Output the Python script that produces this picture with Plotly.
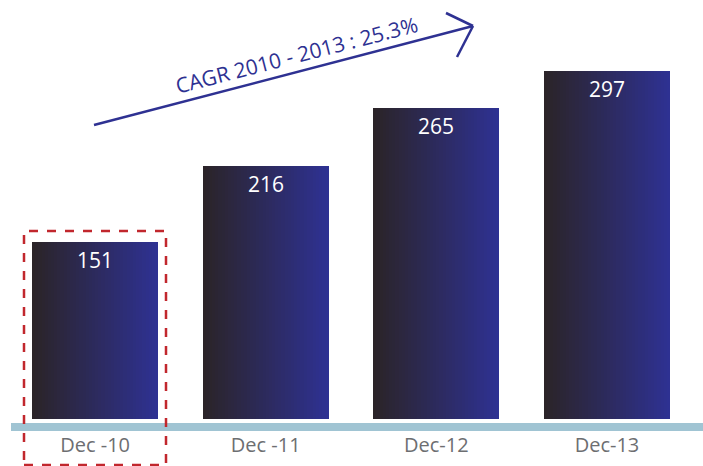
import plotly.graph_objects as go

categories = ["Dec -10", "Dec -11", "Dec-12", "Dec-13"]
values = [151, 216, 265, 297]
cagr_label = "CAGR 2010 - 2013 : 25.3%"

W, H = 703, 466
ML, MR, MT, MB = 11, 0, 0, 47
PW, PH = W - ML - MR, H - MT - MB

def px(x):
    return (x - ML) / PW

def py(y):
    return (H - MB - y) / PH

left_rgb = (43, 36, 40)
right_rgb = (46, 49, 146)
bar_w = 0.739
N = 40

fig = go.Figure()
for k in range(N):
    t = k / (N - 1)
    col = "rgb(%d,%d,%d)" % tuple(round(a + (b - a) * t) for a, b in zip(left_rgb, right_rgb))
    off = -bar_w / 2 + k * bar_w / N
    fig.add_trace(go.Bar(
        x=categories, y=values,
        width=bar_w - k * bar_w / N, offset=off,
        marker=dict(color=col, line=dict(width=0)),
        hoverinfo="skip", showlegend=False,
    ))

for c, v in zip(categories, values):
    fig.add_annotation(x=c, y=v, text=str(v), showarrow=False, yanchor="middle",
                       yshift=-18, font=dict(family="Open Sans", size=21, color="white"))

shapes = []
# baseline band
shapes.append(dict(type="rect", xref="paper", yref="paper", x0=px(11), x1=px(703),
                   y0=py(431), y1=py(423), fillcolor="rgb(160,196,211)", line=dict(width=0), layer="above"))
# dashed highlight box
shapes.append(dict(type="rect", xref="paper", yref="paper", x0=px(24), x1=px(166),
                   y0=py(465), y1=py(231), line=dict(color="rgb(193,39,45)", width=2.5, dash="dash"),
                   fillcolor="rgba(0,0,0,0)", layer="above"))
arrow_col = "rgb(46,49,146)"
for (x0, y0, x1, y1) in [(94, 125, 473, 26), (473, 26, 446, 13), (473, 26, 457, 57)]:
    shapes.append(dict(type="line", xref="paper", yref="paper", x0=px(x0), y0=py(y0),
                       x1=px(x1), y1=py(y1), line=dict(color=arrow_col, width=2.5)))

fig.add_annotation(xref="paper", yref="paper", x=px(296), y=py(55), text=cagr_label,
                   showarrow=False, textangle=-14.5, xanchor="center", yanchor="middle",
                   font=dict(family="Open Sans", size=21, color=arrow_col))

fig.update_layout(
    width=W, height=H, autosize=False,
    margin=dict(l=ML, r=MR, t=MT, b=MB),
    plot_bgcolor="white", paper_bgcolor="white",
    barmode="overlay", bargap=0,
    shapes=shapes,
    xaxis=dict(type="category", range=[-0.493, 3.563], showgrid=False, zeroline=False,
               showline=False, ticks="", ticklabelstandoff=12,
               tickfont=dict(family="Open Sans", size=20, color="rgb(109,110,113)")),
    yaxis=dict(range=[0, 357.5], visible=False, showgrid=False, zeroline=False),
)
fig.write_html("out.html")
